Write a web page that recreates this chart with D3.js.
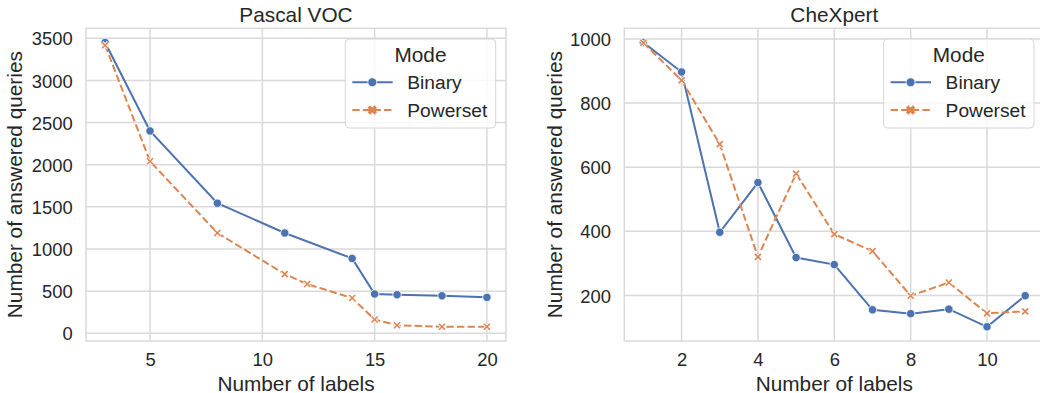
<!DOCTYPE html>
<html>
<head>
<meta charset="utf-8">
<script src="https://cdn.jsdelivr.net/npm/d3@7"></script>
<style>
  html, body { margin: 0; padding: 0; background: #fff; }
  svg { display: block; font-family: "Liberation Sans", Arial, sans-serif; }
</style>
</head>
<body>
<svg id="chart" width="1040" height="393"></svg>
<script>
// Pascal VOC: answered queries per number of labels
const vocBinaryX = [3, 5, 8, 11, 14, 15, 16, 18, 20];
const vocBinaryY = [3450, 2400, 1543, 1190, 888, 466, 458, 445, 426];
const vocPowersetX = [3, 5, 8, 11, 12, 14, 15, 16, 18, 20];
const vocPowersetY = [3418, 2041, 1190, 702, 584, 418, 163, 95, 77, 77];

// CheXpert: answered queries per number of labels
const chexX = [1, 2, 3, 4, 5, 6, 7, 8, 9, 10, 11];
const chexBinaryY = [989, 897, 397, 552, 318, 296, 155, 143, 157, 102, 199];
const chexPowersetY = [988, 871, 672, 320, 580, 391, 338, 199, 240, 144, 150];

const vocXTicks = [5, 10, 15, 20];
const vocYTicks = [0, 500, 1000, 1500, 2000, 2500, 3000, 3500];
const chexXTicks = [2, 4, 6, 8, 10];
const chexYTicks = [200, 400, 600, 800, 1000];

const modes = ["Binary", "Powerset"];
const colors = { Binary: "#4c72b0", Powerset: "#dd8452" };

const svg = d3.select("#chart");
svg.append("rect").attr("width", 1040).attr("height", 393).attr("fill", "#fff");

const GRID = "#d9d9d9";

// matplotlib-style 5% padding around the data extent
function padded(values) {
  const [lo, hi] = d3.extent(values);
  const m = (hi - lo) * 0.05;
  return [lo - m, hi + m];
}

function drawPanel(opts) {
  const { left, right, top, bottom, title, series, xTicks, yTicks, yLabelX } = opts;
  const g = svg.append("g");

  const allX = series.flatMap(s => s.x);
  const allY = series.flatMap(s => s.y);
  const x = d3.scaleLinear().domain(padded(allX)).range([left, right]);
  const y = d3.scaleLinear().domain(padded(allY)).range([bottom, top]);

  // grid
  g.append("g").selectAll("line").data(yTicks).join("line")
    .attr("x1", left).attr("x2", right)
    .attr("y1", d => y(d)).attr("y2", d => y(d))
    .attr("stroke", GRID).attr("stroke-width", 1.5);
  g.append("g").selectAll("line").data(xTicks).join("line")
    .attr("y1", top).attr("y2", bottom)
    .attr("x1", d => x(d)).attr("x2", d => x(d))
    .attr("stroke", GRID).attr("stroke-width", 1.5);

  // frame
  g.append("rect")
    .attr("x", left).attr("y", top)
    .attr("width", right - left).attr("height", bottom - top)
    .attr("fill", "none").attr("stroke", GRID).attr("stroke-width", 1.5);

  // axes (labels only, no tick marks)
  const xAxis = d3.axisBottom(x).tickValues(xTicks).tickSize(0).tickPadding(0).tickFormat(d3.format("d"));
  const ax = g.append("g").attr("transform", `translate(0,${bottom})`).call(xAxis);
  ax.select(".domain").remove();
  ax.selectAll("text")
    .attr("y", 25).attr("dy", null)
    .attr("font-size", 18.4).attr("fill", "#262626")
    .attr("font-family", "Liberation Sans, Arial, sans-serif");

  const yAxis = d3.axisLeft(y).tickValues(yTicks).tickSize(0).tickPadding(0).tickFormat(d3.format("d"));
  const ay = g.append("g").attr("transform", `translate(${left},0)`).call(yAxis);
  ay.select(".domain").remove();
  ay.selectAll("text")
    .attr("x", -13.3).attr("dy", "0.36em")
    .attr("font-size", 18.4).attr("fill", "#262626")
    .attr("font-family", "Liberation Sans, Arial, sans-serif");

  // title & axis labels
  g.append("text")
    .attr("x", (left + 506 - 86 + left) / 2).attr("y", 21.7)
    .attr("text-anchor", "middle").attr("font-size", 20.8).attr("fill", "#262626")
    .text(title);
  g.append("text")
    .attr("x", left + 210).attr("y", 390.8)
    .attr("text-anchor", "middle").attr("font-size", 20.8).attr("fill", "#262626")
    .text("Number of labels");
  g.append("text")
    .attr("transform", `translate(${yLabelX},${(top + bottom) / 2}) rotate(-90)`)
    .attr("text-anchor", "middle").attr("font-size", 20.8).attr("fill", "#262626")
    .text("Number of answered queries");

  // series
  const line = d3.line().x(d => x(d[0])).y(d => y(d[1]));
  series.forEach(s => {
    const pts = s.x.map((v, i) => [v, s.y[i]]);
    g.append("path").datum(pts)
      .attr("d", line).attr("fill", "none")
      .attr("stroke", colors[s.mode]).attr("stroke-width", 2)
      .attr("stroke-dasharray", s.mode === "Powerset" ? "7.4,3.2" : null);
    if (s.mode === "Binary") {
      g.append("g").selectAll("circle").data(pts).join("circle")
        .attr("cx", d => x(d[0])).attr("cy", d => y(d[1])).attr("r", 4.2)
        .attr("fill", colors.Binary).attr("stroke", "#fff").attr("stroke-width", 0.8);
    } else {
      const mk = g.append("g").selectAll("g").data(pts).join("g")
        .attr("transform", d => `translate(${x(d[0])},${y(d[1])})`);
      mk.append("path").attr("d", "M-3,-3L3,3M-3,3L3,-3")
        .attr("stroke", "#fff").attr("stroke-width", 3.2).attr("fill", "none");
      mk.append("path").attr("d", "M-3,-3L3,3M-3,3L3,-3")
        .attr("stroke", colors.Powerset).attr("stroke-width", 1.6).attr("fill", "none");
    }
  });

  // legend
  const lw = 150.4, lh = 89;
  const lx = right - 10.3 - lw, ly = top + 10.7;
  const leg = g.append("g").attr("transform", `translate(${lx},${ly})`);
  leg.append("rect").attr("width", lw).attr("height", lh).attr("rx", 4)
    .attr("fill", "#fff").attr("fill-opacity", 0.8)
    .attr("stroke", "#d6d6d6").attr("stroke-width", 1);
  leg.append("text").attr("x", lw / 2).attr("y", 22.7)
    .attr("text-anchor", "middle").attr("font-size", 20.8).attr("fill", "#262626")
    .text("Mode");
  modes.forEach((m, i) => {
    const ry = 43.3 + i * 27.7;
    leg.append("line").attr("x1", 7).attr("x2", 47.4).attr("y1", ry).attr("y2", ry)
      .attr("stroke", colors[m]).attr("stroke-width", 2)
      .attr("stroke-dasharray", m === "Powerset" ? "7.4,3.2" : null);
    if (m === "Binary") {
      leg.append("circle").attr("cx", 27).attr("cy", ry).attr("r", 4.5)
        .attr("fill", colors[m]).attr("stroke", "#fff").attr("stroke-width", 0.8);
    } else {
      leg.append("path").attr("transform", `translate(27,${ry})`)
        .attr("d", "M-3.5,-3.5L3.5,3.5M-3.5,3.5L3.5,-3.5")
        .attr("stroke", colors[m]).attr("stroke-width", 3.4).attr("fill", "none");
    }
    leg.append("text").attr("x", 62).attr("y", ry + 7)
      .attr("font-size", 19.2).attr("fill", "#262626").text(m);
  });
}

drawPanel({
  left: 86, right: 506, top: 28.3, bottom: 341,
  title: "Pascal VOC",
  series: [
    { mode: "Binary", x: vocBinaryX, y: vocBinaryY },
    { mode: "Powerset", x: vocPowersetX, y: vocPowersetY }
  ],
  xTicks: vocXTicks, yTicks: vocYTicks, yLabelX: 22
});

drawPanel({
  left: 624.3, right: 1044.3, top: 28.3, bottom: 341,
  title: "CheXpert",
  series: [
    { mode: "Binary", x: chexX, y: chexBinaryY },
    { mode: "Powerset", x: chexX, y: chexPowersetY }
  ],
  xTicks: chexXTicks, yTicks: chexYTicks, yLabelX: 561.5
});
</script>
</body>
</html>
